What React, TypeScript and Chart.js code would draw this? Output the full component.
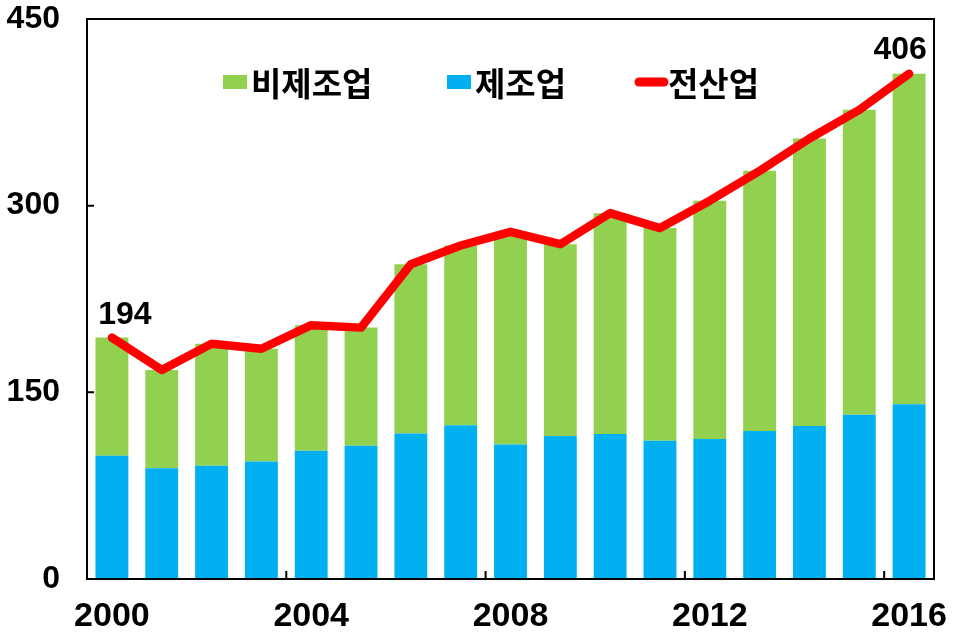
import React, { useEffect, useRef } from "react";
import { Chart, registerables } from "chart.js";

Chart.register(...registerables);

const years = ["2000", "2001", "2002", "2003", "2004", "2005", "2006", "2007", "2008", "2009", "2010", "2011", "2012", "2013", "2014", "2015", "2016"];
const manufacturing = [99, 89, 91, 94.5, 103, 107, 117, 123.5, 108, 115, 116.5, 111, 112.5, 119, 123, 132, 140.5];
const nonManufacturing = [95, 79, 98, 90.5, 101, 95, 136, 144.5, 171, 154, 177.5, 171, 191.5, 209, 231, 245, 265.5];
const allIndustries = [194, 168, 189, 185, 204, 202, 253, 268, 279, 269, 294, 282, 304, 328, 354, 377, 406];
const xTickLabels = ["2000", "2004", "2008", "2012", "2016"];
const yStep = 150;
const yMax = 450;

const labelNames = { nonManufacturing: "비제조업", manufacturing: "제조업", all: "전산업" };

const BLUE = "#00B0F0";
const GREEN = "#92D050";
const RED = "#FF0000";

const framePlugin = {
  id: "frame",
  afterDatasetsDraw(chart: any) {
    const { ctx, chartArea: a, scales } = chart;
    ctx.save();
    ctx.strokeStyle = "#000";
    ctx.lineWidth = 2;
    ctx.strokeRect(a.left, a.top, a.right - a.left, a.bottom - a.top);
    ctx.beginPath();
    scales.y.ticks.forEach((t: any) => {
      const y = scales.y.getPixelForValue(t.value);
      ctx.moveTo(a.left, y);
      ctx.lineTo(a.left + 7, y);
    });
    for (let i = 4; i < years.length; i += 4) {
      const x = scales.x.getPixelForValue(i - 0.5);
      ctx.moveTo(x, a.bottom);
      ctx.lineTo(x, a.bottom - 8);
    }
    ctx.stroke();

    // data labels for first and last total values
    const meta = chart.getDatasetMeta(2);
    const first = meta.data[0];
    const last = meta.data[meta.data.length - 1];
    ctx.fillStyle = "#000";
    ctx.font = "bold 32px 'Liberation Sans', Arial, sans-serif";
    ctx.textAlign = "center";
    ctx.textBaseline = "alphabetic";
    ctx.fillText(String(allIndustries[0]), first.x + 13, first.y - 14);
    ctx.fillText(String(allIndustries[allIndustries.length - 1]), last.x - 9, last.y - 15);

    // legend inside plot
    const items = [
      { text: labelNames.nonManufacturing, color: GREEN, kind: "box", dx: 136 },
      { text: labelNames.manufacturing, color: BLUE, kind: "box", dx: 360 },
      { text: labelNames.all, color: RED, kind: "line", dx: 548 },
    ];
    ctx.font = "bold 33px 'Noto Sans CJK KR', sans-serif";
    ctx.textAlign = "left";
    ctx.textBaseline = "middle";
    const cy = a.top + 63;
    items.forEach((it) => {
      let x = a.left + it.dx;
      if (it.kind === "box") {
        ctx.fillStyle = it.color;
        ctx.fillRect(x, cy - 7, 24, 14);
        x += 28;
      } else {
        ctx.strokeStyle = it.color;
        ctx.lineWidth = 9;
        ctx.lineCap = "round";
        ctx.beginPath();
        ctx.moveTo(x + 4, cy);
        ctx.lineTo(x + 29, cy);
        ctx.stroke();
        x += 33;
      }
      ctx.fillStyle = "#000";
      ctx.fillText(it.text, x, cy + 1);
    });
    ctx.restore();
  },
};

export default function App() {
  const ref = useRef<HTMLCanvasElement | null>(null);
  useEffect(() => {
    const canvas = ref.current;
    if (!canvas) return;
    const chart = new Chart(canvas, {
      type: "bar",
      data: {
        labels: years,
        datasets: [
          {
            type: "bar",
            label: labelNames.manufacturing,
            data: manufacturing,
            backgroundColor: BLUE,
            stack: "bars",
            order: 2,
            categoryPercentage: 1,
            barPercentage: 0.66,
          },
          {
            type: "bar",
            label: labelNames.nonManufacturing,
            data: nonManufacturing,
            backgroundColor: GREEN,
            stack: "bars",
            order: 2,
            categoryPercentage: 1,
            barPercentage: 0.66,
          },
          {
            type: "line",
            label: labelNames.all,
            data: allIndustries,
            borderColor: RED,
            backgroundColor: RED,
            borderWidth: 8.5,
            pointRadius: 0,
            tension: 0,
            borderJoinStyle: "round",
            borderCapStyle: "round",
            stack: "total",
            order: 0,
          },
        ],
      } as any,
      options: {
        responsive: false,
        animation: false,
        devicePixelRatio: 1,
        layout: { padding: { top: 19, right: 43, left: 0, bottom: 0 } },
        plugins: { legend: { display: false }, tooltip: { enabled: false } },
        scales: {
          x: {
            stacked: true,
            grid: { display: false, drawTicks: false },
            border: { display: true, color: "#000", width: 2 },
            afterFit: (s: any) => { s.height = 59; s.paddingLeft = 0; s.paddingRight = 0; },
            ticks: {
              autoSkip: false,
              maxRotation: 0,
              padding: 17,
              color: "#000",
              font: { family: "'Liberation Sans', Arial, sans-serif", size: 34, weight: "bold" },
              callback: (_v: any, i: number) => (xTickLabels.includes(years[i]) ? years[i] : ""),
            },
          },
          y: {
            stacked: true,
            min: 0,
            max: yMax,
            grid: { display: false, drawTicks: false },
            border: { display: true, color: "#000", width: 2 },
            afterFit: (s: any) => { s.width = 87; s.paddingTop = 0; s.paddingBottom = 0; },
            ticks: {
              stepSize: yStep,
              padding: 27,
              color: "#000",
              font: { family: "'Liberation Sans', Arial, sans-serif", size: 32, weight: "bold" },
            },
          },
        },
      } as any,
      plugins: [framePlugin],
    });
    return () => chart.destroy();
  }, []);
  return (
    <div style={{ position: "fixed", left: 0, top: 0, width: 977, height: 638, background: "#fff" }}>
      <canvas ref={ref} width={977} height={638} style={{ display: "block" }} />
    </div>
  );
}
